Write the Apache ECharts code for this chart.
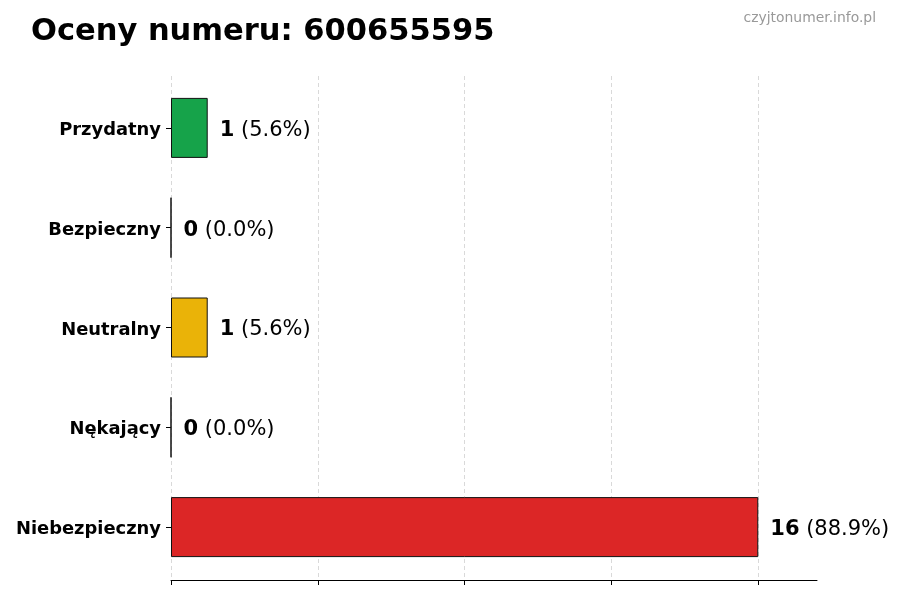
<!DOCTYPE html>
<html>
<head>
<meta charset="utf-8">
<script src="https://cdn.jsdelivr.net/npm/echarts@6/dist/echarts.min.js"></script>
<style>
html,body{margin:0;padding:0;background:#fff;}
#chart{width:900px;height:600px;}
</style>
</head>
<body>
<div id="chart"></div>
<script>
var categories = ['Przydatny', 'Bezpieczny', 'Neutralny', 'Nękający', 'Niebezpieczny'];
var values = [1, 0, 1, 0, 16];
var barColors = ['#16a34a', '#2563eb', '#eab308', '#f97316', '#dc2626'];
var xTicks = [0, 4, 8, 12, 16];
var titleText = 'Oceny numeru: 600655595';
var watermark = 'czyjtonumer.info.pl';

var total = values.reduce(function (a, b) { return a + b; }, 0);
var FONT = 'DejaVu Sans';

var chart = echarts.init(document.getElementById('chart'), null, { renderer: 'canvas' });
chart.setOption({
  backgroundColor: '#ffffff',
  animation: false,
  textStyle: { fontFamily: FONT },
  title: [
    { text: titleText, left: 26, top: 12,
      textStyle: { fontFamily: FONT, fontWeight: 'bold', fontSize: 30.5, color: '#000' } },
    { text: watermark, right: 19, top: 6,
      textStyle: { fontFamily: FONT, fontWeight: 'normal', fontSize: 13.9, color: '#999999' } }
  ],
  grid: [
    { left: 171, right: 83, top: 76, bottom: 20 },
    { left: 171, right: 83, top: 78, bottom: 23 }
  ],
  xAxis: [
    { type: 'value', gridIndex: 0, min: 0, max: 17.6, interval: 4,
      axisLine: { show: true, lineStyle: { color: '#000', width: 1 } },
      axisTick: { show: true, length: 5, lineStyle: { color: '#000', width: 1 },
        customValues: xTicks },
      axisLabel: { show: false },
      splitLine: { show: true, lineStyle: { color: '#cfcfcf', type: [4, 3], width: 0.8 } } },
    { type: 'value', gridIndex: 1, min: 0, max: 17.6, show: false,
      splitLine: { show: false } }
  ],
  yAxis: [
    { type: 'value', gridIndex: 0, show: false, min: 0, max: 1, splitLine: { show: false } },
    { type: 'category', gridIndex: 1, data: categories, inverse: true,
      axisLine: { show: false },
      axisTick: { show: true, alignWithLabel: true, length: 5, lineStyle: { color: '#000', width: 1 } },
      axisLabel: { margin: 10, color: '#000',
        formatter: '{a|{value}}',
        rich: { a: { fontFamily: FONT, fontWeight: 'bold', fontSize: 17.9, color: '#000',
          padding: [5, 0, 0, 0] } } },
      splitLine: { show: false } }
  ],
  series: [{
    type: 'bar',
    xAxisIndex: 1,
    yAxisIndex: 1,
    barWidth: 60,
    data: values.map(function (v, i) {
      return { value: v, itemStyle: { color: barColors[i] } };
    }),
    itemStyle: { borderColor: '#111', borderWidth: 1 },
    label: {
      show: true,
      position: 'right',
      distance: 12,
      fontFamily: FONT,
      fontSize: 21,
      color: '#000',
      padding: [5, 0, 0, 0],
      formatter: function (p) {
        var pct = (p.value / total * 100).toFixed(1);
        return '{b|' + p.value + '} {n|(' + pct + '%)}';
      },
      rich: {
        b: { fontFamily: FONT, fontWeight: 'bold', fontSize: 21, color: '#000' },
        n: { fontFamily: FONT, fontWeight: 'normal', fontSize: 21, color: '#000' }
      }
    }
  }]
});
</script>
</body>
</html>
